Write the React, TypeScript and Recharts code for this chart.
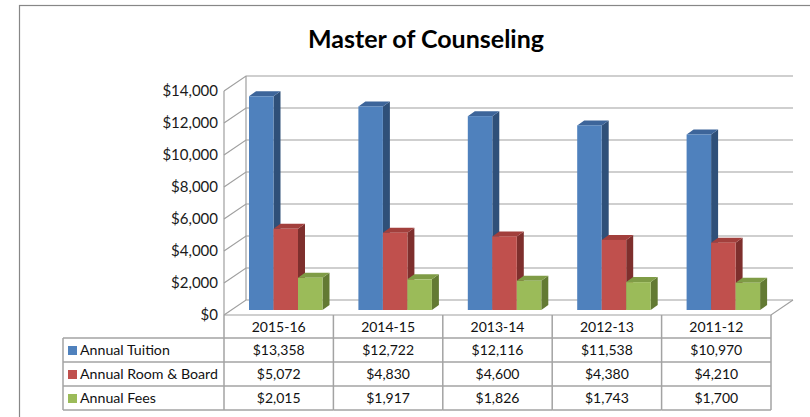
import React from 'react';
import { BarChart, Bar, XAxis, YAxis, CartesianGrid, Customized } from 'recharts';

// ---- data ----
const categories = ['2015-16', '2014-15', '2013-14', '2012-13', '2011-12'];
const tuition = [13358, 12722, 12116, 11538, 10970];
const roomBoard = [5072, 4830, 4600, 4380, 4210];
const fees = [2015, 1917, 1826, 1743, 1700];
const seriesNames = ['Annual Tuition', 'Annual Room & Board', 'Annual Fees'];
const yTicks = [0, 2000, 4000, 6000, 8000, 10000, 12000, 14000];
const title = 'Master of Counseling';

const seriesValues = [tuition, roomBoard, fees];
const seriesKeys = ['tuition', 'roomBoard', 'fees'];
const seriesColors = [
  { front: '#4f81bd', top: '#3d659a', side: '#2f5079' },
  { front: '#c0504d', top: '#a23f3c', side: '#7e2f2d' },
  { front: '#9bbb59', top: '#7f9c46', side: '#637a33' },
];

const data = categories.map((c, i) => ({
  category: c,
  tuition: tuition[i],
  roomBoard: roomBoard[i],
  fees: fees[i],
}));

// ---- layout ----
const W = 810;
const H = 417;
const PLOT_LEFT = 224;
const PLOT_RIGHT = 771;
const PLOT_TOP = 91;
const PLOT_BOTTOM = 315;
const DEPTH_X = 22;
const DEPTH_Y = -15;
const BAR_DX = 7;
const BAR_DY = -5;
const SIDE_X = 7;
const SIDE_Y = -5;
const FONT = 'Lato, "Open Sans", sans-serif';
const GRID = '#a0a0a0';
const TABLE = '#a3a3a3';

const fmt = (v: number) => '$' + v.toLocaleString('en-US');

const gridLine = (p: any) => {
  const x1 = p.x1 ?? PLOT_LEFT;
  const x2 = p.x2 ?? PLOT_RIGHT;
  const y1 = p.y1;
  const top = p.y ?? PLOT_TOP;
  const h = p.height ?? PLOT_BOTTOM - PLOT_TOP;
  const bottom = top + h;
  const els: any[] = [
    <path
      key="g"
      d={`M${x1},${y1} L${x1 + DEPTH_X},${y1 + DEPTH_Y} L${x2 + DEPTH_X},${y1 + DEPTH_Y}`}
      fill="none"
      stroke={GRID}
      strokeWidth={1.2}
    />,
  ];
  if (p.index === 0) {
    els.push(
      <path
        key="walls"
        d={`M${x1},${top} L${x1},${bottom} M${x1 + DEPTH_X},${top + DEPTH_Y} L${x1 + DEPTH_X},${bottom + DEPTH_Y} M${x1},${bottom} L${x2},${bottom} L${x2 + DEPTH_X},${bottom + DEPTH_Y}`}
        fill="none"
        stroke={GRID}
        strokeWidth={1.2}
      />
    );
  }
  return <g key={p.key}>{els}</g>;
};

const makeShape = (c: { front: string; top: string; side: string }) => (p: any) => {
  const { x, y, width, height } = p;
  if (!height || height <= 0) return <g />;
  const fx = x + BAR_DX;
  const fy = y + BAR_DY;
  return (
    <g>
      <polygon
        points={`${fx + width},${fy} ${fx + width + SIDE_X},${fy + SIDE_Y} ${fx + width + SIDE_X},${fy + height + SIDE_Y} ${fx + width},${fy + height}`}
        fill={c.side}
      />
      <polygon
        points={`${fx},${fy} ${fx + SIDE_X},${fy + SIDE_Y} ${fx + width + SIDE_X},${fy + SIDE_Y} ${fx + width},${fy}`}
        fill={c.top}
      />
      <rect x={fx} y={fy} width={width} height={height} fill={c.front} />
    </g>
  );
};

const HEADER_H = 23;
const ROW_H = 24;
const LABEL_COL_W = 161;

const TableTick = (p: any) => {
  const { x, y, payload } = p;
  const i = payload?.index ?? p.index ?? 0;
  const half = (PLOT_RIGHT - PLOT_LEFT) / categories.length / 2;
  const left = x - half;
  const right = x + half;
  const top = y;
  const rowTops = seriesNames.map((_, r) => top + HEADER_H + r * ROW_H);
  const bottom = top + HEADER_H + seriesNames.length * ROW_H;
  const hLines = [...rowTops, bottom];
  const els: any[] = [];
  els.push(<line key="vl" x1={left} y1={top} x2={left} y2={bottom} stroke={TABLE} strokeWidth={1.5} />);
  if (i === categories.length - 1) {
    els.push(<line key="vr" x1={right} y1={top} x2={right} y2={bottom} stroke={TABLE} strokeWidth={1.5} />);
  }
  hLines.forEach((hy, k) => {
    els.push(<line key={'h' + k} x1={left} y1={hy} x2={right} y2={hy} stroke={TABLE} strokeWidth={1.5} />);
  });
  els.push(
    <text key="cat" x={x} y={top + 17} textAnchor="middle" fontSize={14} fontFamily={FONT} fill="#111">
      {payload.value}
    </text>
  );
  seriesValues.forEach((vals, r) => {
    els.push(
      <text key={'v' + r} x={x} y={rowTops[r] + 17} textAnchor="middle" fontSize={14} fontFamily={FONT} fill="#111">
        {fmt(vals[i])}
      </text>
    );
  });
  if (i === 0) {
    const lx = left - LABEL_COL_W;
    els.push(<line key="lvl" x1={lx} y1={rowTops[0]} x2={lx} y2={bottom} stroke={TABLE} strokeWidth={1.5} />);
    hLines.forEach((hy, k) => {
      els.push(<line key={'lh' + k} x1={lx} y1={hy} x2={left} y2={hy} stroke={TABLE} strokeWidth={1.5} />);
    });
    seriesNames.forEach((name, r) => {
      els.push(
        <rect key={'sq' + r} x={lx + 5} y={rowTops[r] + 8} width={9} height={9} fill={seriesColors[r].front} />
      );
      els.push(
        <text key={'ln' + r} x={lx + 17} y={rowTops[r] + 17} fontSize={14.2} fontFamily={FONT} fill="#111">
          {name}
        </text>
      );
    });
  }
  return <g>{els}</g>;
};

const Decor = () => (
  <g>
    <rect x={19.5} y={5.5} width={W + 40} height={H + 40} fill="none" stroke="#878787" strokeWidth={1.2} />
    <text x={426} y={48} textAnchor="middle" fontSize={25} fontWeight="bold" fontFamily={FONT} fill="#000">
      {title}
    </text>
  </g>
);

export default function App() {
  return (
    <div style={{ position: 'absolute', left: 0, top: 0, width: W, height: H, background: '#fff' }}>
      <BarChart
        width={W}
        height={H}
        data={data}
        margin={{ top: PLOT_TOP, right: W - PLOT_RIGHT, left: 0, bottom: 0 }}
        barGap={0}
        barSize={24.5}
        style={{ fontFamily: FONT }}
      >
        <Customized component={Decor} />
        <CartesianGrid vertical={false} horizontal={gridLine} />
        <YAxis
          domain={[0, 14000]}
          ticks={yTicks}
          width={PLOT_LEFT}
          axisLine={false}
          tickLine={false}
          tickSize={0}
          tickMargin={6}
          tickFormatter={fmt}
          tick={{ fontSize: 15, fill: '#1a1a1a', fontFamily: FONT }}
          interval={0}
        />
        <XAxis
          dataKey="category"
          height={H - PLOT_BOTTOM}
          axisLine={false}
          tickLine={false}
          tickSize={0}
          tickMargin={0}
          interval={0}
          tick={<TableTick />}
        />
        {seriesKeys.map((k, s) => (
          <Bar
            key={k}
            dataKey={k}
            name={seriesNames[s]}
            isAnimationActive={false}
            shape={makeShape(seriesColors[s])}
          />
        ))}
      </BarChart>
    </div>
  );
}
